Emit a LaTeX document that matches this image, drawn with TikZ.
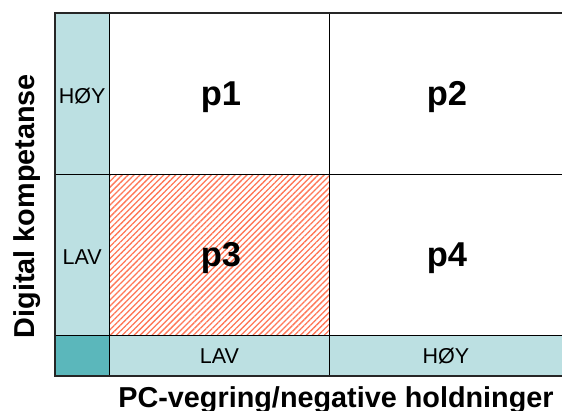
\documentclass[tikz,border=0pt]{standalone}
\usepackage{fontspec}
\setmainfont{Liberation Sans}
\usetikzlibrary{patterns.meta}
\definecolor{tealL}{HTML}{BCE0E2}
\definecolor{tealD}{HTML}{5BB7BB}
\definecolor{hatchc}{HTML}{FF7656}
\begin{document}
\begin{tikzpicture}[x=1pt,y=-1pt,
  lbl/.style={font=\fontsize{21.5}{21.5}\selectfont, inner sep=0pt},
  pl/.style={font=\fontsize{34.5}{34.5}\selectfont\bfseries, inner sep=0pt},
  axis/.style={font=\fontsize{28.8}{28.8}\selectfont\bfseries, inner sep=0pt},
  thin line/.style={line width=1pt, draw=black},
  frame line/.style={line width=2pt, draw=black!85}]
\useasboundingbox (0,0) rectangle (562,410);
% fills
\fill[tealL] (55,12.5) rectangle (109.5,335.5);
\fill[tealL] (109.5,335.5) rectangle (563,376);
\fill[tealD] (55,335.5) rectangle (109.5,376);
\fill[pattern={Lines[angle=45,distance=4.2pt,line width=1.3pt]}, pattern color=hatchc] (109.5,174) rectangle (329.5,335.5);
% grid
\coordinate (va1) at (109.5,12.5); \coordinate (vb1) at (109.5,376);
\coordinate (va2) at (329.5,12.5); \coordinate (vb2) at (329.5,376);
\coordinate (ha1) at (55,174); \coordinate (hb1) at (563,174);
\coordinate (ha2) at (55,335.5); \coordinate (hb2) at (563,335.5);
\draw[thin line] (va1) -- (vb1);
\draw[thin line] (va2) -- (vb2);
\draw[thin line] (ha1) -- (hb1);
\draw[thin line] (ha2) -- (hb2);
% frame
\coordinate (tr) at (563,12.5); \coordinate (tl) at (55,12.5);
\coordinate (bl) at (55,376); \coordinate (br) at (563,376);
\draw[frame line] (tr) -- (tl) -- (bl) -- (br);
% texts
\node[lbl] (hoyL) at (82.2,96.5) {HØY};
\node[lbl] (lavL) at (82.2,257.5) {LAV};
\node[lbl] (lavB) at (219.5,356) {LAV};
\node[lbl] (hoyB) at (446,356) {HØY};
\node[pl] (p1) at (221,97.5) {p1};
\node[pl] (p2) at (447,97.5) {p2};
\node[pl] (p3) at (221,258.5) {p3};
\node[pl] (p4) at (447,258.5) {p4};
\node[axis, anchor=base] (xl) at (336,407.5) {PC-vegring/negative holdninger};
\node[axis, rotate=90] (yl) at (27,206) {Digital kompetanse};
\end{tikzpicture}
\end{document}
